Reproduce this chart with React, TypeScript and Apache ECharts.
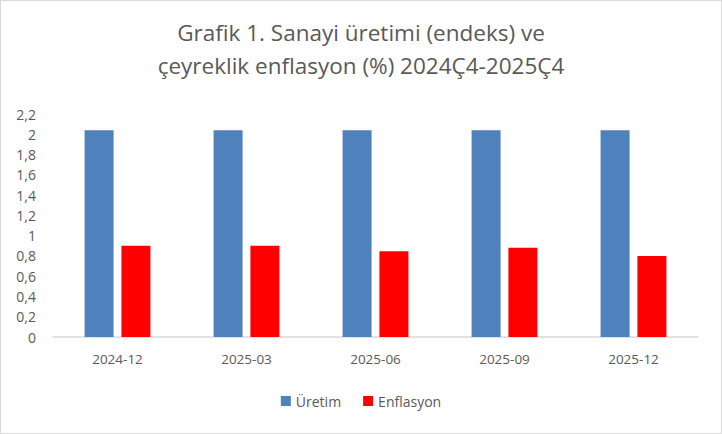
import React, { useEffect, useRef } from "react";
import * as echarts from "echarts";

const categories = ["2024-12", "2025-03", "2025-06", "2025-09", "2025-12"];
const uretim = [2.04, 2.04, 2.04, 2.04, 2.04];
const enflasyon = [0.9, 0.9, 0.845, 0.88, 0.8];
const titleLines = ["Grafik 1. Sanayi üretimi (endeks) ve", "çeyreklik enflasyon (%) 2024Ç4-2025Ç4"];

const FONT = "'Open Sans', 'Noto Sans', sans-serif";
const GREY = "#595959";

export default function App() {
  const ref = useRef<HTMLDivElement>(null);
  useEffect(() => {
    if (!ref.current) return;
    const chart = echarts.init(ref.current, null, { renderer: "svg" });
    chart.setOption({
      animation: false,
      backgroundColor: "#fff",
      textStyle: { fontFamily: FONT },
      title: {
        text: titleLines.join("\n"),
        left: "center",
        top: 10,
        textStyle: { fontFamily: FONT, fontSize: 22.5, fontWeight: "normal", color: GREY, lineHeight: 33 },
      },
      legend: {
        bottom: 20,
        left: "center",
        icon: "rect",
        itemWidth: 10,
        itemHeight: 10,
        itemGap: 22,
        textStyle: { fontFamily: FONT, fontSize: 14, color: GREY },
        data: ["Üretim", "Enflasyon"],
      },
      grid: { left: 52, right: 23, top: 113, bottom: 96, containLabel: false },
      xAxis: {
        type: "category",
        data: categories,
        axisLine: { lineStyle: { color: "#d9d9d9", width: 1.5 } },
        axisTick: { show: false },
        axisLabel: { fontFamily: FONT, fontSize: 13.5, color: GREY, margin: 15 },
      },
      yAxis: {
        type: "value",
        min: 0,
        max: 2.2,
        interval: 0.2,
        splitLine: { show: false },
        axisLine: { show: false },
        axisTick: { show: false },
        axisLabel: {
          fontFamily: FONT,
          fontSize: 14,
          color: GREY,
          margin: 17,
          formatter: (v: number) => String(Math.round(v * 10) / 10).replace(".", ","),
        },
      },
      series: [
        {
          name: "Üretim",
          type: "bar",
          data: uretim,
          barWidth: 29,
          barGap: "27%",
          itemStyle: { color: "#4f81bd" },
        },
        {
          name: "Enflasyon",
          type: "bar",
          data: enflasyon,
          barWidth: 29,
          itemStyle: { color: "#ff0000" },
        },
      ],
    });
    return () => chart.dispose();
  }, []);
  return (
    <div
      ref={ref}
      style={{ width: 722, height: 434, position: "absolute", left: 0, top: 0, boxSizing: "border-box", border: "1px solid #d9d9d9" }}
    />
  );
}
